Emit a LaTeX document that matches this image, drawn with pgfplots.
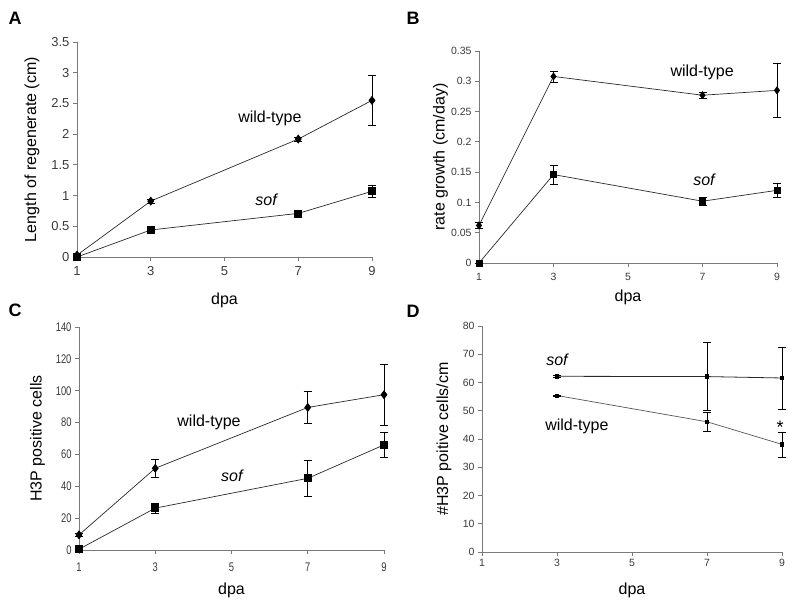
\documentclass[border=0pt]{standalone}
\usepackage{fontspec}
\setmainfont{Liberation Sans}
\newfontfamily\condfont[FakeStretch=0.75]{Liberation Sans}
\usepackage{pgfplots}
\pgfplotsset{compat=1.18}
\definecolor{axgray}{HTML}{7A7A7A}
\definecolor{tickgray}{HTML}{3A3A3A}
\definecolor{linegray}{HTML}{2A2A2A}
\definecolor{lightline}{HTML}{555555}
\tikzset{ann/.style={font=\fontsize{16}{19}\selectfont}}
\pgfplotsset{
  panel/.style={
    scale only axis, axis x line*=bottom, axis y line*=left,
    axis line style={axgray, line width=0.9pt},
    tick align=outside, major tick length=4pt,
    tick style={axgray, line width=0.8pt},
    xmin=1, xmax=9, xtick={1,3,5,7,9},
    /pgf/number format/assume math mode=true,
    scaled y ticks=false, clip=false,
    xlabel={dpa},
  },
  tl/.style 2 args={
    xticklabel style={font=#1, text=tickgray, yshift=#2},
    yticklabel style={font=#1, text=tickgray}},
  ylab/.style={every axis y label/.style={at={(axis description cs:#1,0.5)}, rotate=90, anchor=center, font=\fontsize{16}{19}\selectfont, text=black}},
  xlab/.style={every axis x label/.style={at={(axis description cs:0.5,#1)}, anchor=center, font=\fontsize{16}{19}\selectfont, text=black}},
  eb/.style={
    error bars/y dir=both, error bars/y explicit,
    error bars/error bar style={black, line width=0.6pt},
    error bars/error mark options={rotate=90, mark size=4pt, black, line width=0.6pt}},
  wt/.style={linegray, line width=0.7pt, mark=diamond*, mark size=4pt,
    mark options={black, solid}, eb},
  sf/.style={linegray, line width=0.7pt, mark=square*, mark size=3.5pt,
    mark options={black, solid}, eb},
}
\begin{document}
\begin{tikzpicture}
\path[use as bounding box] (0pt,0pt) rectangle (800pt,-605pt);
\node[font=\bfseries\fontsize{18}{20}\selectfont] at (15pt,-18pt) {A};
\node[font=\bfseries\fontsize{18}{20}\selectfont] at (413pt,-18pt) {B};
\node[font=\bfseries\fontsize{18}{20}\selectfont] at (15pt,-310pt) {C};
\node[font=\bfseries\fontsize{18}{20}\selectfont] at (413pt,-311pt) {D};

% Panel A
\begin{axis}[panel, at={(77pt,-257pt)}, anchor=south west,
  width=295pt, height=215pt, ymin=0, ymax=3.5,
  ytick={0,0.5,1,1.5,2,2.5,3,3.5},
  yticklabels={0,0.5,1,1.5,2,2.5,3,3.5},
  tl={\fontsize{13}{15}\selectfont}{-2pt},
  ylabel={Length of regenerate (cm)}, ylab=-0.153, xlab=-0.2]
\addplot[wt] coordinates {(1,0.03) +- (0,0.02) (3,0.91) +- (0,0.03) (7,1.92) +- (0,0.03) (9,2.55) +- (0,0.40)};
\addplot[sf] coordinates {(1,0.0) +- (0,0.0) (3,0.44) +- (0,0.04) (7,0.71) +- (0,0.05) (9,1.07) +- (0,0.09)};
\node[ann] at (axis cs:6.23,2.26) {wild-type};
\node[ann] at (axis cs:6.13,0.93) {\itshape sof};
\end{axis}

% Panel B
\begin{axis}[panel, at={(479pt,-263pt)}, anchor=south west,
  width=298pt, height=212pt, ymin=0, ymax=0.35,
  ytick={0,0.05,0.1,0.15,0.2,0.25,0.3,0.35},
  yticklabels={0,0.05,0.1,0.15,0.2,0.25,0.3,0.35},
  tl={\fontsize{10.5}{12}\selectfont}{-3pt},
  ylabel={rate growth (cm/day)}, ylab=-0.129, xlab=-0.16]
\addplot[wt, mark size=3.5pt] coordinates {(1,0.062) +- (0,0.005) (3,0.308) +- (0,0.009) (7,0.277) +- (0,0.005) (9,0.285) +- (0,0.044)};
\addplot[sf, mark size=3pt] coordinates {(1,0.0) +- (0,0.0) (3,0.146) +- (0,0.016) (7,0.102) +- (0,0.007) (9,0.120) +- (0,0.011)};
\node[ann] at (axis cs:6.99,0.315) {wild-type};
\node[ann] at (axis cs:7.04,0.137) {\itshape sof};
\end{axis}

% Panel C
\begin{axis}[panel, at={(79pt,-550pt)}, anchor=south west,
  width=305pt, height=223pt, ymin=0, ymax=140,
  ytick={0,20,40,60,80,100,120,140},
  tl={\condfont\fontsize{12.5}{14}\selectfont}{-5pt},
  ylabel={H3P positive cells}, ylab=-0.136, xlab=-0.179]
\addplot[wt] coordinates {(1,9.5) +- (0,1) (3,51.3) +- (0,5.5) (7,89.5) +- (0,10) (9,97.5) +- (0,19)};
\addplot[sf] coordinates {(1,0.5) +- (0,0.5) (3,26.3) +- (0,3.2) (7,45) +- (0,11.5) (9,66) +- (0,8)};
\node[ann] at (axis cs:4.41,80.4) {wild-type};
\node[ann] at (axis cs:5.01,46.5) {\itshape sof};
\end{axis}

% Panel D
\begin{axis}[panel, at={(482pt,-552pt)}, anchor=south west,
  width=300pt, height=226pt, ymin=0, ymax=80,
  ytick={0,10,20,30,40,50,60,70,80},
  tl={\fontsize{10.5}{12}\selectfont}{0pt},
  ticklabel style={text=axgray!80!black},
  ylabel={\#H3P poitive cells/cm}, ylab=-0.127, xlab=-0.168]
\addplot[sf, mark size=1.8pt, line width=0.8pt] coordinates {(3,62.2) +- (0,0.2) (7,62.1) +- (0,12.1) (9,61.6) +- (0,11)};
\addplot[sf, lightline, mark size=1.6pt, line width=0.7pt, mark options={black}] coordinates {(3,55.4) +- (0,0.2) (7,46.1) +- (0,3.5) (9,38.1) +- (0,4.4)};
\node[ann] at (axis cs:3.0,68) {\itshape sof};
\node[ann] at (axis cs:3.53,44.6) {wild-type};
\node[font=\fontsize{18}{20}\selectfont] at (axis cs:8.95,44) {*};
\end{axis}
\end{tikzpicture}
\end{document}
